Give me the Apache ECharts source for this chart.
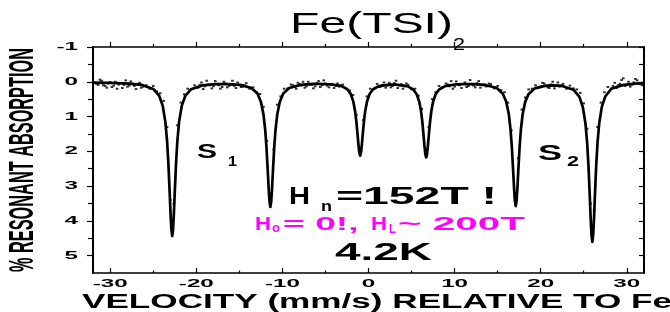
<!DOCTYPE html>
<html>
<head>
<meta charset="utf-8">
<script src="https://cdn.jsdelivr.net/npm/echarts@6/dist/echarts.min.js"></script>
<style>
  html, body { margin: 0; padding: 0; background: #fff; }
  #chart { width: 670px; height: 312px; }
</style>
</head>
<body>
<div id="chart"></div>
<script>
// tick values
const xMajorTicks = [-30, -20, -10, 0, 10, 20, 30]
const xMinorTicks = [-25, -15, -5, 5, 15, 25]
const yMajorTicks = [-1, 0, 1, 2, 3, 4, 5]
const yMinorTicks = [-0.5, 0.5, 1.5, 2.5, 3.5, 4.5]

// fitted six-line spectrum [velocity, absorption %]
const fitCurve = [
  [-32, 0.023], [-30, 0.031], [-27.8, 0.052], [-26.3, 0.091], [-25, 0.206], [-24.3, 0.408], [-23.9, 0.695],
  [-23.6, 1.147], [-23.4, 1.694], [-23.25, 2.319], [-23.1, 3.153], [-23, 3.755], [-22.9, 4.242], [-22.8, 4.436],
  [-22.7, 4.249], [-22.6, 3.762], [-22.5, 3.16], [-22.35, 2.326], [-22.2, 1.701], [-22, 1.154], [-21.7, 0.702],
  [-21.3, 0.415], [-20.6, 0.213], [-19.3, 0.103], [-17.8, 0.068], [-17.1, 0.066],
  [-16.4, 0.065], [-14.9, 0.089], [-13.6, 0.178], [-12.9, 0.34], [-12.5, 0.572], [-12.2, 0.938], [-12, 1.38],
  [-11.85, 1.887], [-11.7, 2.563], [-11.6, 3.05], [-11.5, 3.444], [-11.4, 3.6], [-11.3, 3.445], [-11.2, 3.051],
  [-11.1, 2.564], [-10.95, 1.888], [-10.8, 1.381], [-10.6, 0.939], [-10.3, 0.573], [-9.9, 0.34], [-9.2, 0.178],
  [-7.9, 0.088], [-6.4, 0.063],
  [-5.97, 0.062], [-4.47, 0.071], [-3.17, 0.118], [-2.47, 0.213], [-2.07, 0.349], [-1.77, 0.564], [-1.57, 0.824],
  [-1.42, 1.121], [-1.27, 1.517], [-1.17, 1.803], [-1.07, 2.034], [-0.97, 2.125], [-0.87, 2.034], [-0.77, 1.803],
  [-0.67, 1.517], [-0.52, 1.121], [-0.37, 0.824], [-0.17, 0.564], [0.13, 0.351], [0.53, 0.216], [1.23, 0.123],
  [2.53, 0.082], [2.9, 0.081],
  [3.2, 0.083], [4.5, 0.127], [5.2, 0.22], [5.6, 0.358], [5.9, 0.577], [6.1, 0.843], [6.25, 1.147], [6.4, 1.553],
  [6.5, 1.845], [6.6, 2.082], [6.7, 2.175], [6.8, 2.082], [6.9, 1.845], [7, 1.553], [7.15, 1.147], [7.3, 0.843],
  [7.5, 0.577], [7.8, 0.358], [8.2, 0.222], [8.9, 0.124], [10.2, 0.072], [11.7, 0.064],
  [12.1, 0.065], [13.6, 0.091], [14.9, 0.18], [15.6, 0.342], [16, 0.573], [16.3, 0.936], [16.5, 1.375],
  [16.65, 1.877], [16.8, 2.547], [16.9, 3.031], [17, 3.421], [17.1, 3.575], [17.2, 3.426], [17.3, 3.036],
  [17.4, 2.552], [17.55, 1.882], [17.7, 1.38], [17.9, 0.941], [18.2, 0.578], [18.6, 0.35], [19.3, 0.191],
  [20.6, 0.11], [21.5, 0.102],
  [22.5, 0.12], [23.8, 0.229], [24.5, 0.435], [24.9, 0.732], [25.2, 1.2], [25.4, 1.767], [25.55, 2.414],
  [25.7, 3.279], [25.8, 3.903], [25.9, 4.407], [26, 4.605], [26.1, 4.397], [26.2, 3.893], [26.3, 3.269],
  [26.45, 2.404], [26.6, 1.757], [26.8, 1.19], [27.1, 0.722], [27.5, 0.424], [28.2, 0.2], [29.5, 0.096],
  [31, 0.054], [32, 0.041]
]

// measured counts (dots)
const dotsA = [
  [-31.8, 0.02], [-31.4, 0.09], [-31, -0.03], [-30.6, 0.12], [-30.2, 0.05], [-29.8, 0.15], [-29.4, 0], [-29, 0.08],
  [-28.6, 0.18], [-28.2, -0.04], [-27.8, 0.11], [-27.4, 0.06], [-27, 0.21], [-26.6, 0.03], [-26.2, 0.14], [-25.8, 0.1],
  [-25.4, 0.2], [-25, 0.12], [-24.6, 0.28], [-24.2, 0.33], [-23.8, 0.55], [-23.4, 1.3], [-23, 3.4], [-22.6, 3.5],
  [-22.2, 1.25], [-21.8, 0.6], [-21.4, 0.36], [-21, 0.2], [-20.6, 0.22], [-20.2, 0.1], [-19.8, 0.17], [-19.4, 0.02],
  [-19, 0.13], [-18.6, 0.08], [-18.2, 0.19], [-17.8, -0.02], [-17.4, 0.1], [-17, 0.15], [-16.6, 0.05], [-16.2, 0.12],
  [-15.8, -0.03], [-15.4, 0.18], [-15, 0.09], [-14.6, 0.14], [-14.2, 0.04], [-13.8, 0.2], [-13.4, 0.16], [-13, 0.3],
  [-12.6, 0.35], [-12.2, 0.72], [-11.8, 1.7], [-11.4, 3.5], [-11, 1.95], [-10.6, 0.66], [-10.2, 0.42], [-9.8, 0.2],
  [-9.4, 0.19], [-9, 0.08], [-8.6, 0.15], [-8.2, 0.03], [-7.8, 0.11], [-7.4, 0.17], [-7, 0], [-6.6, 0.09], [-6.2, 0.13],
  [-5.8, -0.02], [-5.4, 0.1], [-5, 0.05], [-4.6, 0.16], [-4.2, 0.06], [-3.8, 0.12], [-3.4, 0.14], [-3, 0.08],
  [-2.6, 0.2], [-2.2, 0.25], [-1.8, 0.38], [-1.4, 0.95], [-1, 2.05], [-0.6, 1.1], [-0.2, 0.42], [0.2, 0.2], [0.6, 0.21],
  [1, 0.06], [1.4, 0.14], [1.8, 0.02], [2.2, 0.1], [2.6, 0.16], [3, 0.04], [3.4, 0.18], [3.8, 0.07], [4.2, 0.13],
  [4.6, 0.09], [5, 0.22], [5.4, 0.2], [5.8, 0.4], [6.2, 0.78], [6.6, 2], [7, 1.3], [7.4, 0.5], [7.8, 0.3], [8.2, 0.12],
  [8.6, 0.16], [9, 0.05], [9.4, 0.13], [9.8, 0.2], [10.2, -0.01], [10.6, 0.1], [11, 0.06], [11.4, 0.15], [11.8, -0.05],
  [12.2, 0.11], [12.6, 0.04], [13, 0.17], [13.4, 0.09], [13.8, 0.13], [14.2, 0.07], [14.6, 0.19], [15, 0.12],
  [15.4, 0.24], [15.8, 0.3], [16.2, 0.6], [16.6, 1.4], [17, 3.3], [17.4, 2.2], [17.8, 0.8], [18.2, 0.45], [18.6, 0.22],
  [19, 0.2], [19.4, 0.1], [19.8, 0.16], [20.2, 0.03], [20.6, 0.12], [21, 0.18], [21.4, 0], [21.8, 0.1], [22.2, 0.14],
  [22.6, 0.06], [23, 0.2], [23.4, 0.11], [23.8, 0.19], [24.2, 0.22], [24.6, 0.32], [25, 0.62], [25.4, 1.35],
  [25.8, 3.5], [26.2, 3.7], [26.6, 1.3], [27, 0.6], [27.4, 0.3], [27.8, 0.15], [28.2, 0.2], [28.6, 0.03], [29, 0.1],
  [29.4, -0.05], [29.8, 0.12], [30.2, 0], [30.6, 0.08], [31, -0.08], [31.4, 0.05], [31.8, 0.1]
]
const dotsB = [
  [-31.6, 0.06], [-31.2, -0.06], [-30.8, 0.1], [-30.4, 0.17], [-30, 0.01], [-29.6, 0.11], [-29.2, 0.2], [-28.8, 0.04],
  [-28.4, 0.09], [-28, 0.14], [-27.6, -0.01], [-27.2, 0.12], [-26.8, 0.08], [-26.4, 0.17], [-19.6, 0.09], [-19.2, 0.21],
  [-18.8, -0.03], [-18.4, 0.1], [-18, 0.13], [-17.6, 0.06], [-17.2, 0.2], [-16.8, 0], [-16.4, 0.16], [-16, 0.08],
  [-15.6, 0.12], [-15.2, 0.02], [-14.8, 0.15], [-14.4, 0.1], [-8.8, 0.1], [-8.4, 0.2], [-8, 0.07], [-7.6, 0],
  [-7.2, 0.13], [-6.8, 0.08], [-6.4, 0.19], [-6, 0.04], [-5.6, 0.15], [-5.2, -0.04], [-4.8, 0.11], [-4.4, 0.09],
  [-4, 0.18], [-3.6, 0.05], [1.2, 0.15], [1.6, 0.09], [2, 0.17], [2.4, 0.03], [2.8, 0.12], [3.2, -0.03], [3.6, 0.1],
  [4, 0.2], [4.4, 0.05], [9.2, 0.08], [9.6, -0.02], [10, 0.14], [10.4, 0.09], [10.8, 0.18], [11.2, 0.02], [11.6, 0.12],
  [12, 0.07], [12.4, 0.16], [12.8, -0.02], [13.2, 0.1], [13.6, 0.13], [14, 0.05], [20, 0.14], [20.4, 0.05],
  [20.8, 0.16], [21.2, 0.08], [21.6, 0.19], [22, 0.02], [22.4, 0.11], [22.8, 0.15], [28.4, 0.12], [28.8, 0.18],
  [29.2, 0.06], [29.6, -0.1], [30, 0.09], [30.4, 0.14], [30.8, 0.02], [31.2, -0.04], [31.6, 0.07]
]

const FONT = '"Liberation Sans", Arial, sans-serif'
const INK = '#000'
const PINK = '#f0f'

// the source picture is stretched sideways, so text is drawn with a horizontal scale
const measureCtx = document.createElement('canvas').getContext('2d')
function textWidth(text, font) {
  measureCtx.font = font
  return measureCtx.measureText(text).width
}

// text pieces: left x, middle y, target width
const notes = [
  { text: 'Fe(TSI)', x: 290, y: 25, size: 30, weight: 'normal', w: 163, color: INK },
  { text: '2', x: 453, y: 45, size: 17, weight: 'normal', w: 12, color: INK },
  { text: 'S', x: 197, y: 152.5, size: 21, weight: 'bold', w: 20, color: INK },
  { text: '1', x: 228, y: 162.5, size: 14, weight: 'bold', w: 9, color: INK },
  { text: 'S', x: 538, y: 153.5, size: 22, weight: 'bold', w: 24, color: INK },
  { text: '2', x: 567, y: 162.5, size: 14, weight: 'bold', w: 12, color: INK },
  { text: 'H', x: 289, y: 197.5, size: 24, weight: 'bold', w: 21, color: INK },
  { text: 'n', x: 321, y: 207, size: 14, weight: 'bold', w: 11, color: INK },
  { text: '=152T !', x: 336, y: 197.5, size: 24, weight: 'bold', w: 161, color: INK },
  { text: 'H', x: 255, y: 225, size: 19, weight: 'bold', w: 16, color: PINK },
  { text: 'o', x: 272, y: 229, size: 12, weight: 'bold', w: 8, color: PINK },
  { text: '= 0!, ', x: 283, y: 225, size: 19, weight: 'bold', w: 86, color: PINK },
  { text: 'H', x: 371, y: 225, size: 19, weight: 'bold', w: 16, color: PINK },
  { text: 'L', x: 389, y: 230, size: 12, weight: 'bold', w: 7, color: PINK },
  { text: '~ 200T', x: 398, y: 225, size: 19, weight: 'bold', w: 127, color: PINK },
  { text: '4.2K', x: 335, y: 253.5, size: 24, weight: 'bold', w: 97, color: INK },
  { text: 'VELOCITY (mm/s) RELATIVE TO Fe', x: 82, y: 302, size: 20, weight: 'bold', w: 590, color: INK }
]
const yTitle = '% RESONANT ABSORPTION'

const chart = echarts.init(document.getElementById('chart'), null, { renderer: 'canvas' })

const frame = { color: INK, width: 1.5 }
const tickStyle = { color: INK, width: 1.2 }
function xAxis(grid, pos, ticks, inside, len, line) {
  return {
    type: 'value', gridIndex: grid, position: pos, min: -32, max: 32,
    axisLine: { show: line, onZero: false, lineStyle: frame },
    axisTick: { show: true, customValues: ticks, inside, length: len, lineStyle: tickStyle },
    axisLabel: { show: false }, splitLine: { show: false }
  }
}
function yAxis(grid, pos, ticks, inside, len, line) {
  return {
    type: 'value', gridIndex: grid, position: pos, min: -1, max: 5.5, inverse: true,
    axisLine: { show: line, onZero: false, lineStyle: { color: INK, width: 2 } },
    axisTick: { show: true, customValues: ticks, inside, length: len, lineStyle: tickStyle },
    axisLabel: { show: false }, splitLine: { show: false }
  }
}

const gridBox = { left: 93, right: 26, top: 47, bottom: 39, outerBoundsMode: 'none' }

chart.setOption({
  animation: false,
  grid: [{ ...gridBox }, { ...gridBox }],
  xAxis: [
    xAxis(0, 'bottom', xMajorTicks, true, 5, true),
    xAxis(0, 'top', xMajorTicks, false, 5, true),
    xAxis(1, 'bottom', xMinorTicks, true, 2.5, false),
    xAxis(1, 'top', xMinorTicks, false, 3, false)
  ],
  yAxis: [
    yAxis(0, 'left', yMajorTicks, false, 6, true),
    yAxis(0, 'right', yMajorTicks, true, 5, true),
    yAxis(1, 'left', yMinorTicks, false, 5, false),
    yAxis(1, 'right', yMinorTicks, true, 5, false)
  ],
  series: [
    {
      type: 'scatter', xAxisIndex: 0, yAxisIndex: 0,
      data: dotsA.concat(dotsB),
      symbol: 'rect', symbolSize: [2.6, 2],
      itemStyle: { color: '#000' }, silent: true, z: 2
    },
    {
      type: 'line', xAxisIndex: 0, yAxisIndex: 0,
      data: fitCurve, showSymbol: false, smooth: false,
      lineStyle: { color: INK, width: 2.7, join: 'round' }, silent: true, z: 3
    }
  ]
})

// tick labels and text, placed through the axes
const graphics = []
const tickFont = 'bold 11px ' + FONT
xMajorTicks.forEach(v => {
  const px = chart.convertToPixel({ xAxisIndex: 0 }, v)
  graphics.push({
    type: 'text', x: px, y: 284, scaleX: 2.2, silent: true,
    style: { text: String(v), font: tickFont, fill: INK, align: 'center', verticalAlign: 'middle' }
  })
})
yMajorTicks.forEach(v => {
  const py = chart.convertToPixel({ yAxisIndex: 0 }, v)
  graphics.push({
    type: 'text', x: 78, y: py, scaleX: 2.2, silent: true,
    style: { text: String(v), font: tickFont, fill: INK, align: 'right', verticalAlign: 'middle' }
  })
})
notes.forEach(n => {
  const font = n.weight + ' ' + n.size + 'px ' + FONT
  graphics.push({
    type: 'text', x: n.x, y: n.y, scaleX: n.w / textWidth(n.text, font), silent: true, z: 10,
    style: { text: n.text, font, fill: n.color, align: 'left', verticalAlign: 'middle' }
  })
})
const yTitleFont = 'bold 17px ' + FONT
graphics.push({
  type: 'text', x: 23, y: 160, rotation: Math.PI / 2,
  scaleX: 224 / textWidth(yTitle, yTitleFont), scaleY: 2.1, silent: true,
  style: { text: yTitle, font: yTitleFont, fill: INK, align: 'center', verticalAlign: 'middle' }
})
chart.setOption({ graphic: graphics })

window.addEventListener('resize', () => chart.resize())
</script>
</body>
</html>
